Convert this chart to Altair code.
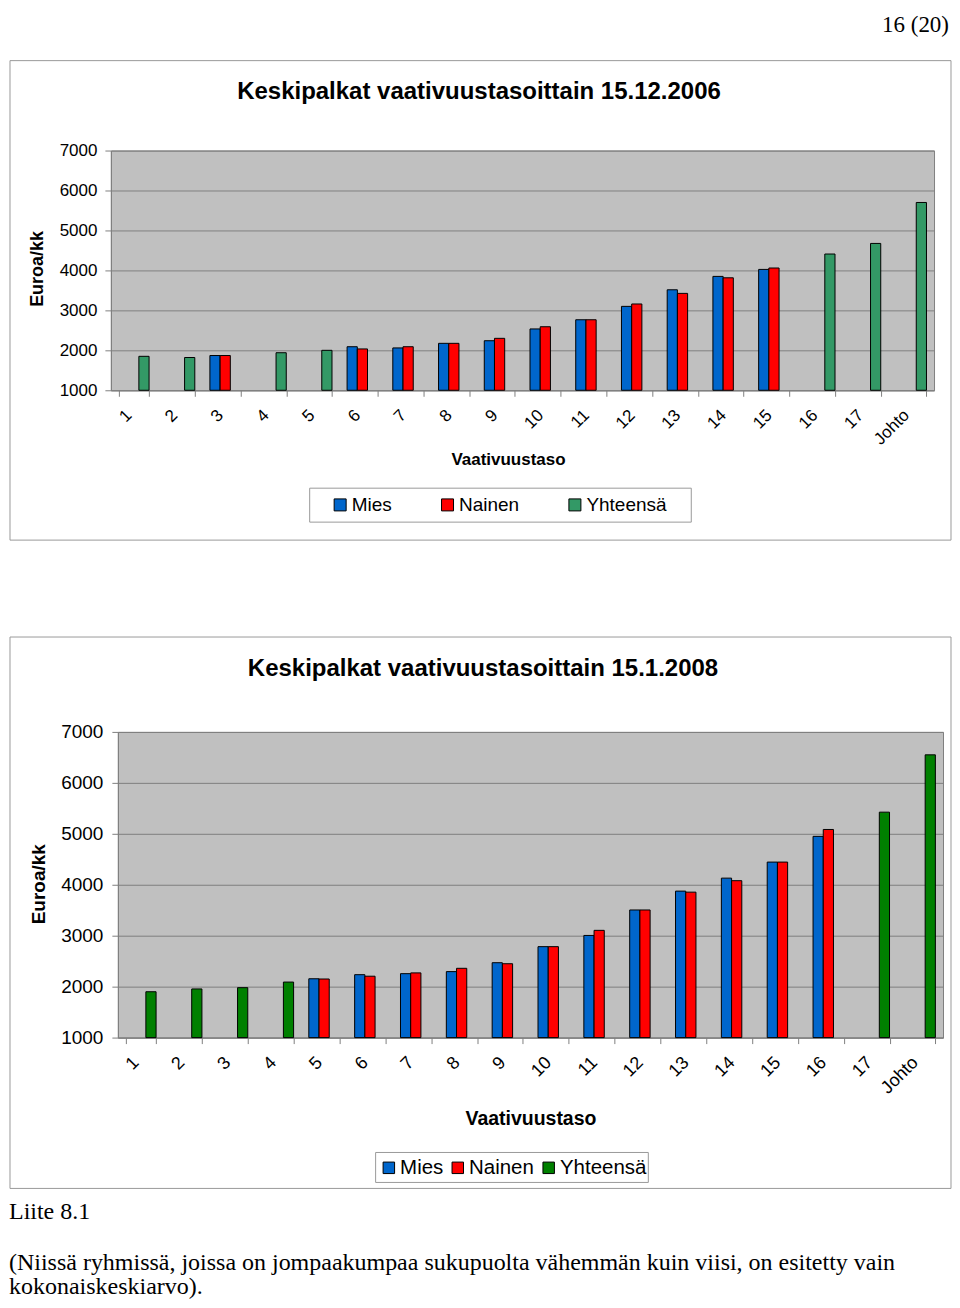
import altair as alt
import pandas as pd

levels = [str(i) for i in range(1, 18)] + ["Johto"]
series = ["Mies", "Nainen", "Yhteensä"]
y_ticks = [1000, 2000, 3000, 4000, 5000, 6000, 7000]

# 15.12.2006
mies_2006 = [None, None, 1870, None, None, 2090, 2060, 2175, 2240, 2535, 2765, 3100, 3515, 3850, 4025, None, None, None]
nainen_2006 = [None, None, 1870, None, None, 2035, 2090, 2175, 2300, 2590, 2765, 3160, 3425, 3815, 4060, None, None, None]
yht_2006 = [1850, 1820, None, 1940, 2000, None, None, None, None, None, None, None, None, None, None, 4410, 4675, 5700]

# 15.1.2008
mies_2008 = [None, None, None, None, 2155, 2235, 2255, 2295, 2470, 2785, 3005, 3505, 3875, 4130, 4445, 4950, None, None]
nainen_2008 = [None, None, None, None, 2150, 2205, 2270, 2360, 2450, 2785, 3105, 3505, 3855, 4080, 4445, 5085, None, None]
yht_2008 = [1900, 1955, 1980, 2090, None, None, None, None, None, None, None, None, None, None, None, None, 5425, 6550]

colors_2006 = ["#0066CC", "#FF0000", "#339966"]
colors_2008 = ["#0066CC", "#FF0000", "#008000"]

title_2006 = "Keskipalkat vaativuustasoittain 15.12.2006"
title_2008 = "Keskipalkat vaativuustasoittain 15.1.2008"
page_no = "16 (20)"
liite = "Liite 8.1"
note_1 = "(Niissä ryhmissä, joissa on jompaakumpaa sukupuolta vähemmän kuin viisi, on esitetty vain"
note_2 = "kokonaiskeskiarvo)."

SANS = "Liberation Sans"
SERIF = "Liberation Serif"


def long_df(mies, nainen, yht):
    rows = []
    for lv, m, n, t in zip(levels, mies, nainen, yht):
        for s, v in zip(series, (m, n, t)):
            if v is not None:
                rows.append({"taso": lv, "sarja": s, "arvo": v, "pohja": 1000})
    return pd.DataFrame(rows)


def text(t, x, y, size, bold=False, font=SANS, align="center", baseline="alphabetic", angle=0):
    return alt.Chart(pd.DataFrame({"t": [t]})).mark_text(
        align=align, baseline=baseline, fontSize=size,
        fontWeight="bold" if bold else "normal", font=font, color="black", angle=angle
    ).encode(x=alt.value(x), y=alt.value(y), text="t:N")


def box(x1, y1, x2, y2, color="#9a9a9a", opacity=1):
    return alt.Chart(pd.DataFrame({"a": [0]})).mark_rect(
        filled=False, stroke=color, strokeWidth=1, strokeOpacity=opacity
    ).encode(x=alt.value(x1), x2=alt.value(x2), y=alt.value(y1), y2=alt.value(y2))


def bars(df, colors, ylab, xlab, ypad, leg):
    x = alt.X("taso:N", sort=levels,
              scale=alt.Scale(domain=levels, paddingInner=0.33, paddingOuter=0.165),
              axis=alt.Axis(title=None, labelAngle=-45, labelAlign="right", labelBaseline="middle",
                            labelFontSize=xlab, labelPadding=16, labelOffset=-5,
                            tickBand="extent", tickSize=6, grid=False, labelOverlap=False))
    y = alt.Y("arvo:Q", scale=alt.Scale(domain=[1000, 7000], zero=False, nice=False),
              axis=alt.Axis(title=None, values=y_ticks, format="d", labelFontSize=ylab,
                            labelPadding=ypad, tickSize=6, grid=True, labelFlush=False,
                            labelOverlap=False))
    return alt.Chart(df).mark_bar(stroke="black", strokeWidth=1).encode(
        x=x,
        xOffset=alt.XOffset("sarja:N", scale=alt.Scale(domain=series, paddingInner=0, paddingOuter=0)),
        y=y,
        y2="pohja:Q",
        color=alt.Color("sarja:N", scale=alt.Scale(domain=series, range=colors),
                        legend=alt.Legend(title=None, orient="none", legendX=leg["x"], legendY=leg["y"],
                                          direction="horizontal", symbolType="square",
                                          symbolSize=leg["sym"], symbolStrokeColor="black",
                                          symbolStrokeWidth=1, symbolOpacity=1,
                                          labelFont=SANS, labelFontSize=leg["font"], labelColor="black",
                                          labelOffset=leg["off"], columnPadding=leg["col"], padding=0)),
    )


view_bg = alt.ViewBackground(fill="#C0C0C0", stroke="#808080", strokeWidth=1)

# ---- chart 1 (plot origin at page 110,151) ----
W1, H1 = 824, 240
c1 = alt.layer(
    box(-102, -141, 841, 1146, opacity=0),             # page extent (invisible)
    box(-101, -90, 841, 390),                          # chart frame
    box(199, 338, 581, 372),                           # legend frame
    bars(long_df(mies_2006, nainen_2006, yht_2006), colors_2006, 17, 17, 8,
         {"x": 220, "y": 345, "sym": 144, "font": 19, "off": 2, "col": 45.5}),
    text(title_2006, 368.5, -52, 24, bold=True),
    text("Euroa/kk", -72.5, 118.5, 18, bold=True, baseline="middle", angle=270),
    text("Vaativuustaso", 398, 310, 17, bold=True, baseline="middle"),
    text(page_no, 839, -137, 23, font=SERIF, align="right", baseline="top"),
).properties(width=W1, height=H1, view=view_bg)

# ---- chart 2 (plot origin at page 117,733) ----
W2, H2 = 826, 306
c2 = alt.layer(
    box(-108, -95, 834, 457),
    box(258, 421, 531, 451),
    bars(long_df(mies_2008, nainen_2008, yht_2008), colors_2008, 19, 18, 9,
         {"x": 261, "y": 426, "sym": 132, "font": 20.5, "off": 1, "col": 4}),
    text(title_2008, 365.5, -56, 24, bold=True),
    text("Euroa/kk", -78.5, 152.5, 19, bold=True, baseline="middle", angle=270),
    text("Vaativuustaso", 413.5, 387, 19.5, bold=True, baseline="middle"),
    text(liite, -109, 488, 24, font=SERIF, align="left"),
    text(note_1, -109, 539, 24, font=SERIF, align="left"),
    text(note_2, -109, 563, 24, font=SERIF, align="left"),
).properties(width=W2, height=H2, view=view_bg)

spacer = alt.Chart(pd.DataFrame({"a": [0]})).mark_point(opacity=0).encode(
    x=alt.value(0), y=alt.value(0)
).properties(width=7, height=10, view=alt.ViewBackground(fillOpacity=0, strokeOpacity=0))

row2 = alt.hconcat(spacer, c2, spacing=0, bounds="flush").resolve_scale(
    color="independent", x="independent", y="independent"
).resolve_legend(color="independent")

chart = alt.vconcat(c1, row2, spacing=342, bounds="flush").resolve_scale(
    color="independent", x="independent", y="independent"
).resolve_legend(color="independent").properties(
    padding=0, background="white"
).configure_view(stroke="transparent").configure_axis(
    labelFont=SANS, labelColor="black", domainColor="#808080", tickColor="#808080",
    gridColor="#808080", gridOpacity=1
)

chart.save("out.html", embed_options={"renderer": "svg", "actions": False})
